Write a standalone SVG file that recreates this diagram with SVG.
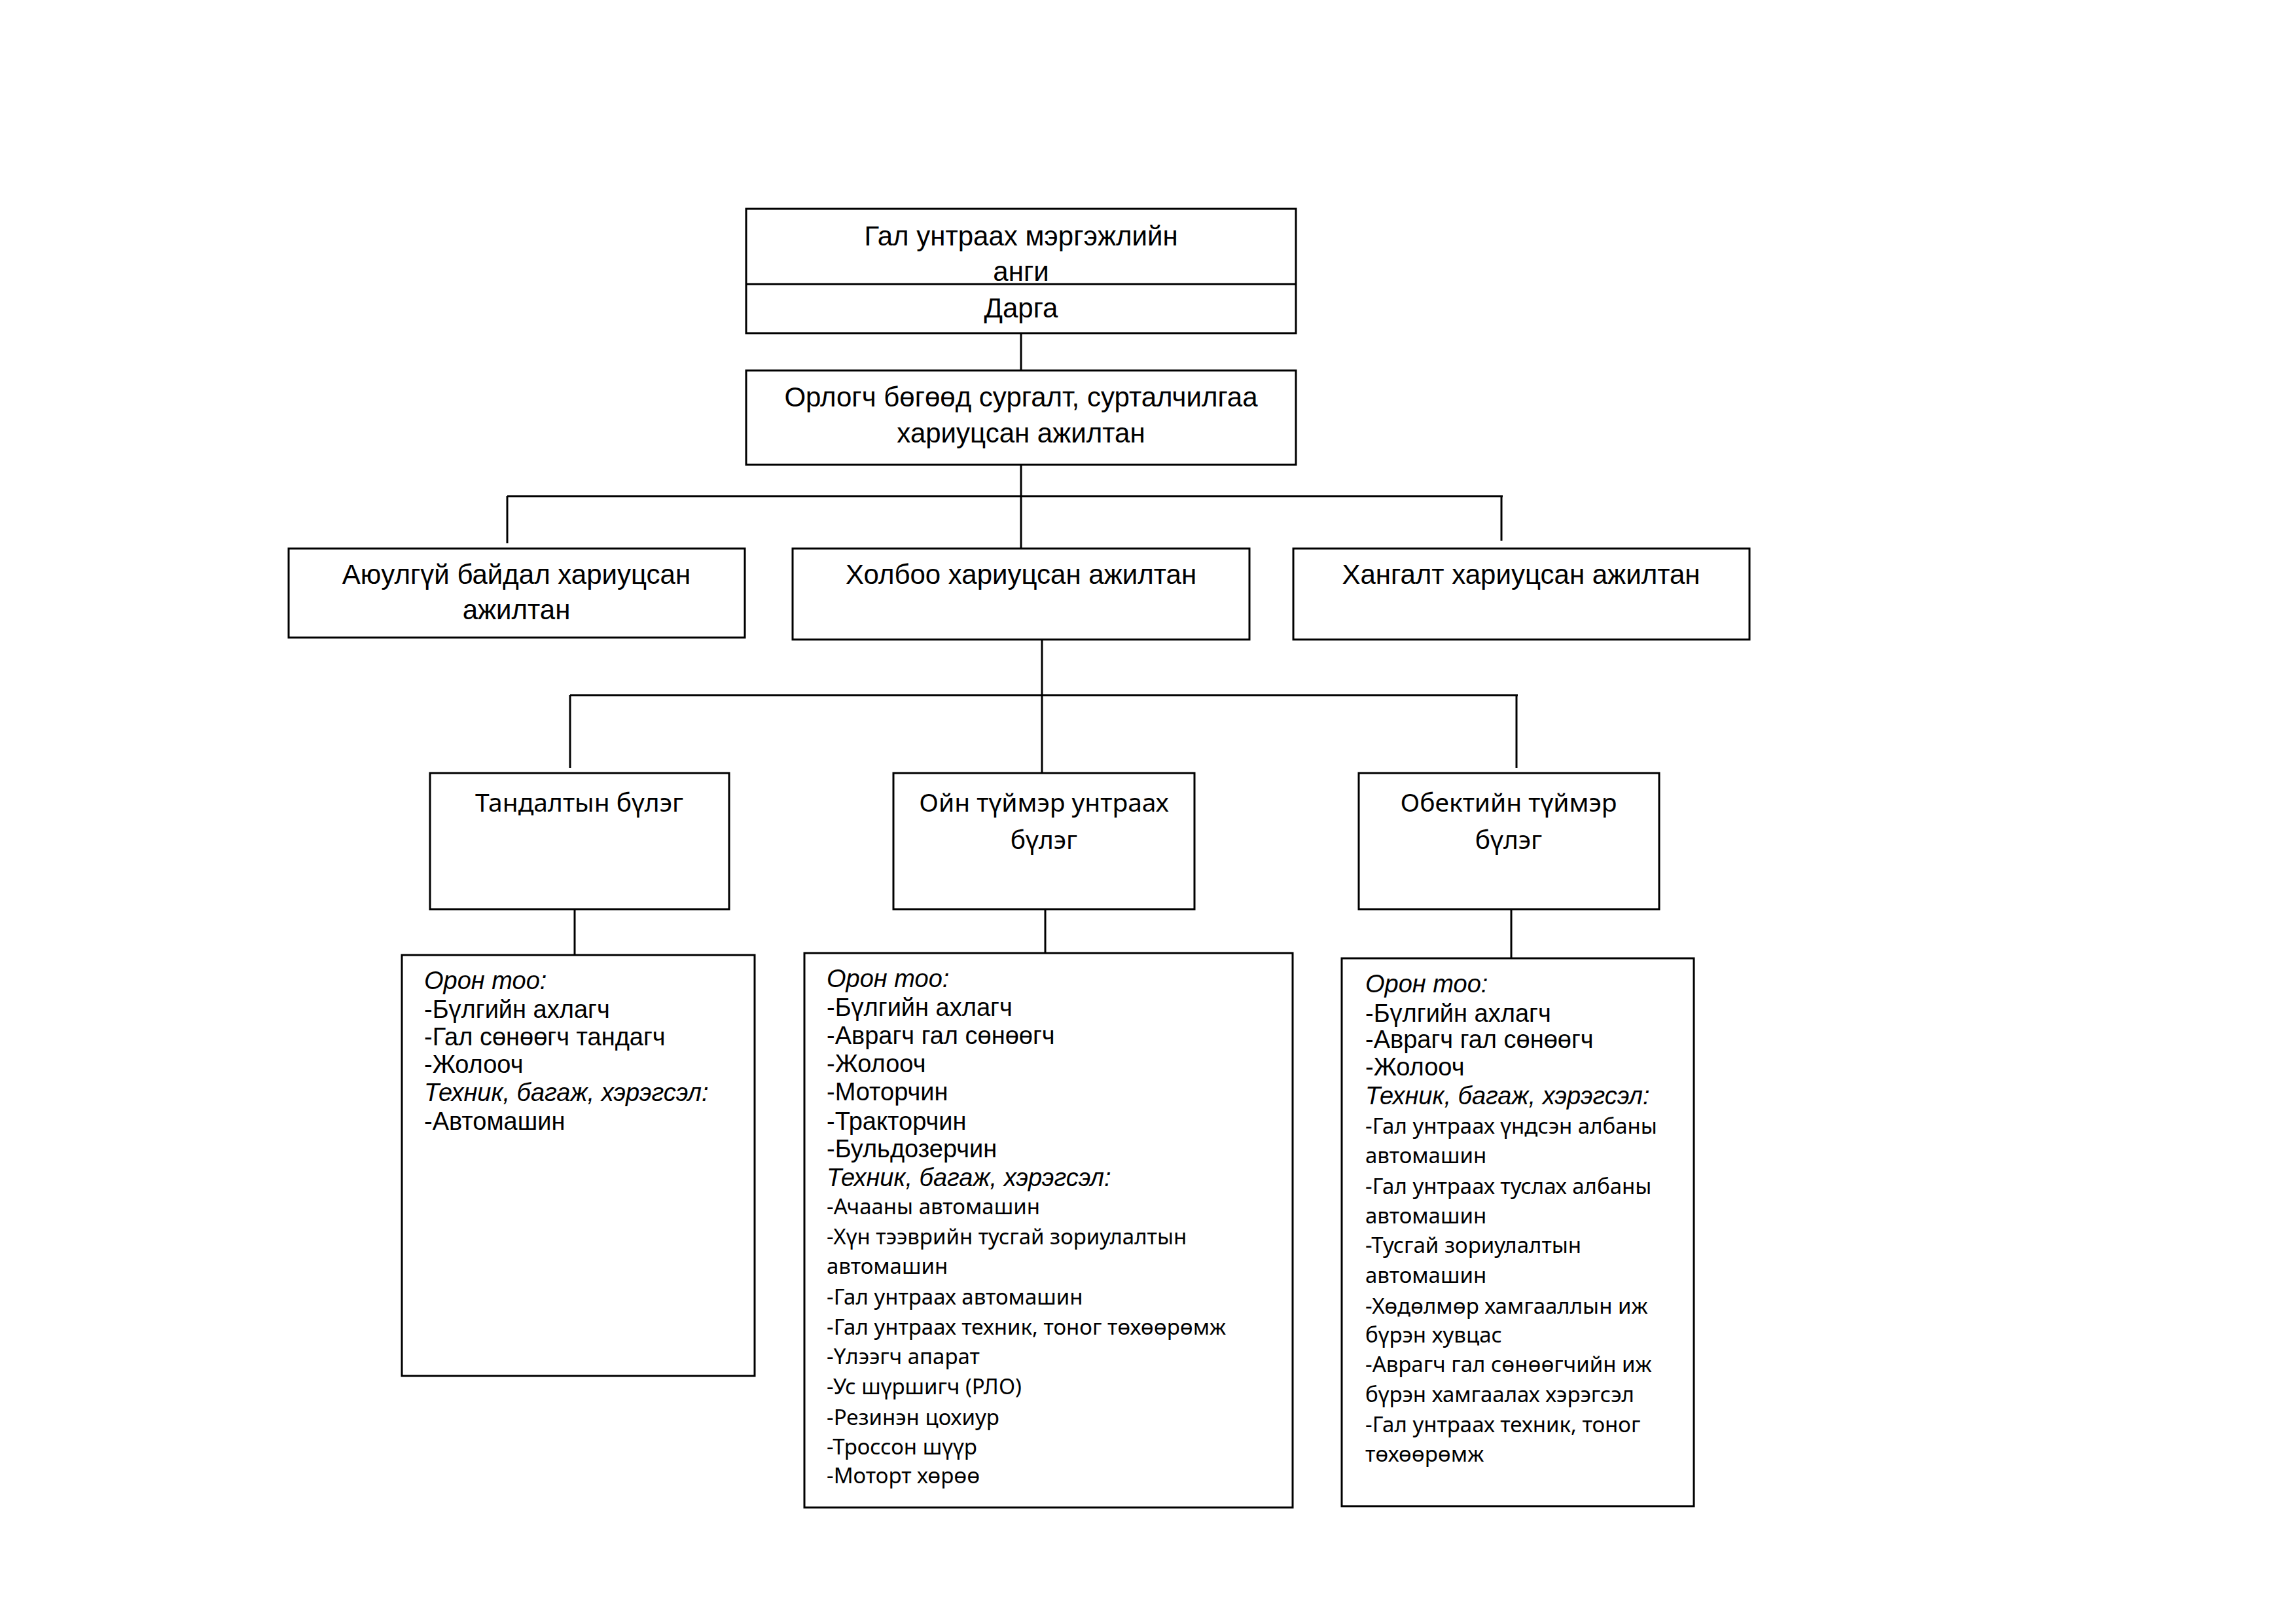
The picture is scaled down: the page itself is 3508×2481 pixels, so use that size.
<svg xmlns="http://www.w3.org/2000/svg" width="3508" height="2481" viewBox="0 0 3508 2481">
<style>
.box{fill:#fff;stroke:#000;stroke-width:3}
.ln{stroke:#000;stroke-width:3;fill:none}
.t{font-family:"Liberation Sans",Arial,sans-serif;font-size:42px;fill:#000;text-anchor:middle}
.c{font-family:"Noto Sans","Open Sans",sans-serif;font-size:39px;fill:#000;text-anchor:middle}
.d{font-family:"Liberation Sans",Arial,sans-serif;font-size:38px;fill:#000}
.i{font-style:italic}
.s{font-family:"Noto Sans","Open Sans",sans-serif;font-size:33px;fill:#000}
</style>
<rect width="3508" height="2481" fill="#fff"/>
<g id="connectors">
<line class="ln" x1="1560" y1="509" x2="1560" y2="566"/>
<line class="ln" x1="1560" y1="710" x2="1560" y2="838"/>
<line class="ln" x1="775" y1="758" x2="2296" y2="758"/>
<line class="ln" x1="775" y1="758" x2="775" y2="830"/>
<line class="ln" x1="2294" y1="758" x2="2294" y2="826"/>
<line class="ln" x1="1592" y1="977" x2="1592" y2="1181"/>
<line class="ln" x1="871" y1="1062" x2="2319" y2="1062"/>
<line class="ln" x1="871" y1="1062" x2="871" y2="1173"/>
<line class="ln" x1="2317" y1="1062" x2="2317" y2="1173"/>
<line class="ln" x1="878" y1="1389" x2="878" y2="1459"/>
<line class="ln" x1="1597" y1="1389" x2="1597" y2="1456"/>
<line class="ln" x1="2309" y1="1389" x2="2309" y2="1464"/>
</g>
<g id="top">
<rect class="box" x="1140" y="319" width="840" height="190"/>
<line class="ln" x1="1140" y1="434" x2="1980" y2="434"/>
<text class="t" x="1560" y="375">Гал унтраах мэргэжлийн</text>
<text class="t" x="1560" y="429">анги</text>
<text class="t" x="1560" y="485">Дарга</text>
</g>
<g id="deputy">
<rect class="box" x="1140" y="566" width="840" height="144"/>
<text class="t" x="1560" y="621">Орлогч бөгөөд сургалт, сурталчилгаа</text>
<text class="t" x="1560" y="676">хариуцсан ажилтан</text>
</g>
<g id="safety">
<rect class="box" x="441" y="838" width="697" height="136"/>
<text class="t" x="789" y="892">Аюулгүй байдал хариуцсан</text>
<text class="t" x="789" y="946">ажилтан</text>
</g>
<g id="comm">
<rect class="box" x="1211" y="838" width="698" height="139"/>
<text class="t" x="1560" y="892">Холбоо хариуцсан ажилтан</text>
</g>
<g id="supply">
<rect class="box" x="1976" y="838" width="697" height="139"/>
<text class="t" x="2324" y="892">Хангалт хариуцсан ажилтан</text>
</g>
<g id="recon">
<rect class="box" x="657" y="1181" width="457" height="208"/>
<text class="c" x="885" y="1240">Тандалтын бүлэг</text>
</g>
<g id="forest">
<rect class="box" x="1365" y="1181" width="460" height="208"/>
<text class="c" x="1595" y="1240">Ойн түймэр унтраах</text>
<text class="c" x="1595" y="1297">бүлэг</text>
</g>
<g id="object">
<rect class="box" x="2076" y="1181" width="459" height="208"/>
<text class="c" x="2305" y="1240">Обектийн түймэр</text>
<text class="c" x="2305" y="1297">бүлэг</text>
</g>
<g id="recon-detail">
<rect class="box" x="614" y="1459" width="539" height="643"/>
<text class="d i" x="648" y="1511">Орон тоо:</text>
<text class="d" x="648" y="1555">-Бүлгийн ахлагч</text>
<text class="d" x="648" y="1597">-Гал сөнөөгч тандагч</text>
<text class="d" x="648" y="1639">-Жолооч</text>
<text class="d i" x="648" y="1682">Техник, багаж, хэрэгсэл:</text>
<text class="d" x="648" y="1726">-Автомашин</text>
</g>
<g id="forest-detail">
<rect class="box" x="1229" y="1456" width="746" height="847"/>
<text class="d i" x="1263" y="1508">Орон тоо:</text>
<text class="d" x="1263" y="1552">-Бүлгийн ахлагч</text>
<text class="d" x="1263" y="1595">-Аврагч гал сөнөөгч</text>
<text class="d" x="1263" y="1638">-Жолооч</text>
<text class="d" x="1263" y="1681">-Моторчин</text>
<text class="d" x="1263" y="1726">-Тракторчин</text>
<text class="d" x="1263" y="1768">-Бульдозерчин</text>
<text class="d i" x="1263" y="1812">Техник, багаж, хэрэгсэл:</text>
<text class="s" x="1263" y="1855">-Ачааны автомашин</text>
<text class="s" x="1263" y="1901">-Хүн тээврийн тусгай зориулалтын</text>
<text class="s" x="1263" y="1946">автомашин</text>
<text class="s" x="1263" y="1993">-Гал унтраах автомашин</text>
<text class="s" x="1263" y="2039">-Гал унтраах техник, тоног төхөөрөмж</text>
<text class="s" x="1263" y="2084">-Үлээгч апарат</text>
<text class="s" x="1263" y="2130">-Ус шүршигч (РЛО)</text>
<text class="s" x="1263" y="2177">-Резинэн цохиур</text>
<text class="s" x="1263" y="2222">-Троссон шүүр</text>
<text class="s" x="1263" y="2266">-Моторт хөрөө</text>
</g>
<g id="object-detail">
<rect class="box" x="2050" y="1464" width="538" height="837"/>
<text class="d i" x="2086" y="1516">Орон тоо:</text>
<text class="d" x="2086" y="1561">-Бүлгийн ахлагч</text>
<text class="d" x="2086" y="1601">-Аврагч гал сөнөөгч</text>
<text class="d" x="2086" y="1643">-Жолооч</text>
<text class="d i" x="2086" y="1687">Техник, багаж, хэрэгсэл:</text>
<text class="s" x="2086" y="1732">-Гал унтраах үндсэн албаны</text>
<text class="s" x="2086" y="1777">автомашин</text>
<text class="s" x="2086" y="1824">-Гал унтраах туслах албаны</text>
<text class="s" x="2086" y="1869">автомашин</text>
<text class="s" x="2086" y="1914">-Тусгай зориулалтын</text>
<text class="s" x="2086" y="1960">автомашин</text>
<text class="s" x="2086" y="2007">-Хөдөлмөр хамгааллын иж</text>
<text class="s" x="2086" y="2051">бүрэн хувцас</text>
<text class="s" x="2086" y="2096">-Аврагч гал сөнөөгчийн иж</text>
<text class="s" x="2086" y="2142">бүрэн хамгаалах хэрэгсэл</text>
<text class="s" x="2086" y="2188">-Гал унтраах техник, тоног</text>
<text class="s" x="2086" y="2233">төхөөрөмж</text>
</g>
</svg>
